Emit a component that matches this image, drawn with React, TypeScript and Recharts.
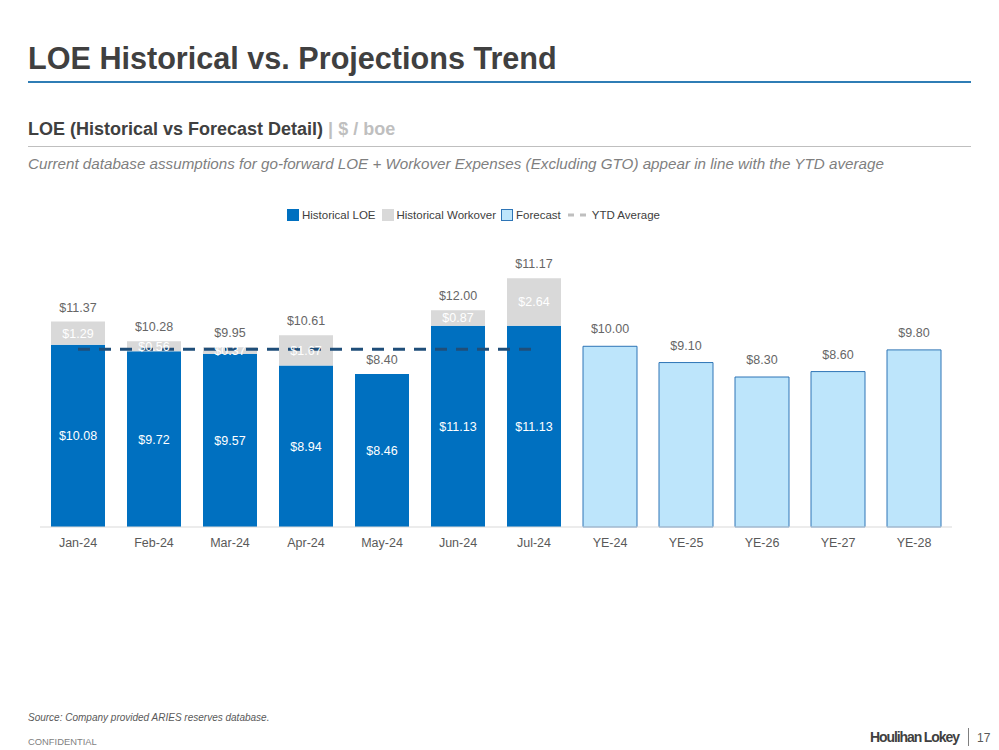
import React from 'react';
import { ComposedChart, Bar, Line, XAxis, YAxis, LabelList } from 'recharts';

const months = ['Jan-24', 'Feb-24', 'Mar-24', 'Apr-24', 'May-24', 'Jun-24', 'Jul-24', 'YE-24', 'YE-25', 'YE-26', 'YE-27', 'YE-28'];
const historicalLoe = [10.08, 9.72, 9.57, 8.94, 8.46, 11.13, 11.13, null, null, null, null, null];
const historicalWorkover = [1.29, 0.56, 0.37, 1.67, null, 0.87, 2.64, null, null, null, null, null];
const forecast = [null, null, null, null, null, null, null, 10.0, 9.1, 8.3, 8.6, 9.8];
const totalLabels = ['$11.37', '$10.28', '$9.95', '$10.61', '$8.40', '$12.00', '$11.17', '$10.00', '$9.10', '$8.30', '$8.60', '$9.80'];
const ytdAverage = [9.83, 9.83, 9.83, 9.83, 9.83, 9.83, 9.83, null, null, null, null, null];

const chartData = months.map((m, i) => ({
    month: m,
    loe: historicalLoe[i],
    workover: historicalWorkover[i],
    forecast: forecast[i],
    total: totalLabels[i],
    // total for bars with no workover segment sits on the LOE segment
    loeTop: historicalWorkover[i] == null && historicalLoe[i] != null ? totalLabels[i] : null,
    ytd: ytdAverage[i],
}));

const FONT = 'Arial, "Liberation Sans", Helvetica, sans-serif';
const BLUE = '#0070C0';
const GRAY = '#D9D9D9';
const LIGHT = '#BDE5FB';
const LIGHT_EDGE = '#2E75B6';

const money = (v: any) => (v == null ? '' : `$${Number(v).toFixed(2)}`);

const makeTopLabel = (gap: number) => ({ x, y, width, value }: any) => {
    if (value == null || value === '') return null;
    return (
        <text x={x + width / 2} y={y - gap} textAnchor="middle" fill="#666666" fontSize={12.5} fontFamily={FONT}>
            {value}
        </text>
    );
};

const HistTop = makeTopLabel(10);
const ForecastTop = makeTopLabel(13);

const LegendBox = () => (
    <div
        style={{
            position: 'absolute',
            top: 209,
            left: 287,
            display: 'flex',
            alignItems: 'center',
            fontSize: 11.5,
            color: '#404040',
            fontFamily: FONT,
            whiteSpace: 'nowrap',
        }}
    >
        <span style={{ width: 12, height: 12, background: BLUE, display: 'inline-block', marginRight: 3 }} />
        <span style={{ marginRight: 6 }}>Historical LOE</span>
        <span style={{ width: 12, height: 12, background: GRAY, display: 'inline-block', marginRight: 3 }} />
        <span style={{ marginRight: 5 }}>Historical Workover</span>
        <span style={{ width: 10, height: 10, background: LIGHT, border: `1px solid ${LIGHT_EDGE}`, display: 'inline-block', marginRight: 3 }} />
        <span style={{ marginRight: 7 }}>Forecast</span>
        <svg width={18} height={4} style={{ marginRight: 6 }}>
            <line x1={0} y1={2} x2={18} y2={2} stroke="#BFBFBF" strokeWidth={3} strokeDasharray="6 6" />
        </svg>
        <span>YTD Average</span>
    </div>
);

export default function App() {
    return (
        <div style={{ position: 'fixed', top: 0, left: 0, width: 999, height: 750, background: '#fff', fontFamily: FONT }}>
            <div style={{ position: 'absolute', left: 28, top: 41, fontSize: 30.6, fontWeight: 'bold', color: '#404040' }}>
                LOE Historical vs. Projections Trend
            </div>
            <div style={{ position: 'absolute', left: 28, top: 81, width: 943, height: 2, background: '#2F7DB5' }} />
            <div style={{ position: 'absolute', left: 28, top: 119, fontSize: 18, fontWeight: 'bold', color: '#404040' }}>
                LOE (Historical vs Forecast Detail) <span style={{ color: '#BFBFBF' }}>| $ / boe</span>
            </div>
            <div style={{ position: 'absolute', left: 28, top: 146, width: 943, height: 1, background: '#BFBFBF' }} />
            <div style={{ position: 'absolute', left: 28, top: 155, fontSize: 15.2, fontStyle: 'italic', color: '#7F7F7F' }}>
                Current database assumptions for go-forward LOE + Workover Expenses (Excluding GTO) appear in line with the YTD average
            </div>

            <LegendBox />

            <div style={{ position: 'absolute', left: 0, top: 0 }}>
                <ComposedChart
                    width={999}
                    height={560}
                    data={chartData}
                    margin={{ top: 274, right: 47, left: 40, bottom: 3 }}
                    barCategoryGap={22}
                >
                    <XAxis
                        dataKey="month"
                        axisLine={{ stroke: '#D9D9D9' }}
                        tickLine={false}
                        tick={{ fontSize: 12.5, fill: '#595959', fontFamily: FONT, dy: 3 }}
                        height={30}
                    />
                    <YAxis hide domain={[0, 14]} />
                    <Bar dataKey="loe" stackId="a" fill={BLUE} barSize={54} isAnimationActive={false}>
                        <LabelList dataKey="loe" position="center" fill="#ffffff" fontSize={12.5} fontFamily={FONT} formatter={money} />
                        <LabelList dataKey="loeTop" content={HistTop} />
                    </Bar>
                    <Bar dataKey="workover" stackId="a" fill={GRAY} barSize={54} isAnimationActive={false}>
                        <LabelList dataKey="workover" position="center" fill="#ffffff" fontSize={12.5} fontFamily={FONT} formatter={money} />
                        <LabelList dataKey="total" content={HistTop} />
                    </Bar>
                    <Bar dataKey="forecast" stackId="a" fill={LIGHT} stroke={LIGHT_EDGE} strokeWidth={1} barSize={54} isAnimationActive={false}>
                        <LabelList dataKey="total" content={ForecastTop} />
                    </Bar>
                    <Line
                        dataKey="ytd"
                        stroke="#1F4E79"
                        strokeWidth={3}
                        strokeDasharray="12 9"
                        dot={false}
                        activeDot={false}
                        connectNulls={false}
                        isAnimationActive={false}
                    />
                </ComposedChart>
            </div>

            <div style={{ position: 'absolute', left: 28, top: 712, fontSize: 10, fontStyle: 'italic', color: '#595959' }}>
                Source: Company provided ARIES reserves database.
            </div>
            <div style={{ position: 'absolute', left: 28, top: 736, fontSize: 9.4, color: '#7F7F7F' }}>CONFIDENTIAL</div>
            <div style={{ position: 'absolute', left: 870, top: 729, fontSize: 14, fontWeight: 'bold', color: '#404040', letterSpacing: -1.1 }}>
                Houlihan Lokey
            </div>
            <div style={{ position: 'absolute', left: 968, top: 728, width: 1, height: 18, background: '#7F7F7F' }} />
            <div style={{ position: 'absolute', left: 977, top: 731, fontSize: 12, color: '#595959' }}>17</div>
        </div>
    );
}
